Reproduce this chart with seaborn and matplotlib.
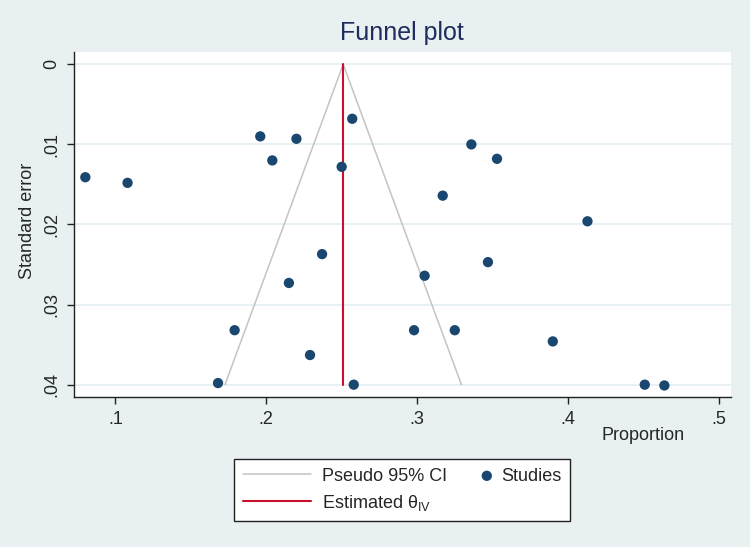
import matplotlib
matplotlib.use("Agg")

import matplotlib.pyplot as plt
import pandas as pd
import seaborn as sns
from matplotlib.collections import PathCollection
from matplotlib.legend_handler import HandlerPathCollection

# values
proportion = [0.080, 0.108, 0.196, 0.204, 0.220, 0.250, 0.257, 0.336, 0.353, 0.317,
              0.413, 0.237, 0.215, 0.179, 0.229, 0.168, 0.258, 0.347, 0.305, 0.298,
              0.325, 0.390, 0.451, 0.464]
std_err = [0.0141, 0.0148, 0.0090, 0.0120, 0.0093, 0.0128, 0.0068, 0.0100, 0.0118, 0.0164,
           0.0196, 0.0237, 0.0273, 0.0332, 0.0363, 0.0398, 0.0400, 0.0247, 0.0264, 0.0332,
           0.0332, 0.0346, 0.0400, 0.0401]
theta_iv = 0.251
se_max = 0.04
z_95 = 1.96

x_ticks = [0.1, 0.2, 0.3, 0.4, 0.5]
x_tick_labels = [".1", ".2", ".3", ".4", ".5"]
y_ticks = [0, 0.01, 0.02, 0.03, 0.04]
y_tick_labels = ["0", ".01", ".02", ".03", ".04"]

BG = "#E8F0F2"
GRID = "#E3EEF1"
DOT = "#1A476F"
RED = "#C8102E"
CI_GRAY = "#C4C4C4"
TITLE_COLOR = "#1F2D5C"


class RightDot(HandlerPathCollection):
    # put the legend dot at the right end of the handle box, as Stata does
    def get_xdata(self, legend, xdescent, ydescent, width, height, fontsize):
        return [-xdescent, -xdescent + width], [-xdescent + width - 0.2 * fontsize]


def main() -> None:
    sns.set_style("white")
    plt.rcParams["font.family"] = ["Liberation Sans", "DejaVu Sans"]
    plt.rcParams["font.size"] = 13

    df = pd.DataFrame({"Proportion": proportion, "Standard error": std_err})

    fig = plt.figure(figsize=(7.5, 5.47), dpi=100, facecolor=BG)
    ax = fig.add_axes([0.0987, 0.2748, 0.8756, 0.6296])
    ax.set_facecolor("white")

    ci_line, = ax.plot(
        [theta_iv - z_95 * se_max, theta_iv, theta_iv + z_95 * se_max],
        [se_max, 0, se_max],
        color=CI_GRAY, lw=1.1, zorder=2,
    )
    est_line, = ax.plot([theta_iv, theta_iv], [0, se_max], color=RED, lw=1.5, zorder=3)
    sns.scatterplot(
        data=df, x="Proportion", y="Standard error", ax=ax,
        color=DOT, s=55, edgecolor="none", linewidth=0, zorder=4, legend=False,
    )
    studies = ax.collections[0]

    ax.set_xlim(0.0725, 0.508)
    ax.set_ylim(0.0415, -0.0015)
    ax.set_xticks(x_ticks)
    ax.set_xticklabels(x_tick_labels)
    ax.set_yticks(y_ticks)
    ax.set_yticklabels(y_tick_labels, rotation=90, va="center")
    ax.tick_params(axis="both", direction="out", length=5, width=1, color="#222222",
                   labelsize=13, pad=5, left=True, bottom=True)
    ax.yaxis.grid(True, color=GRID, lw=1.2)
    ax.xaxis.grid(False)
    ax.set_axisbelow(True)
    for side in ["top", "right"]:
        ax.spines[side].set_visible(False)
    for side in ["left", "bottom"]:
        ax.spines[side].set_color("#222222")
        ax.spines[side].set_linewidth(1.0)

    ax.set_title("Funnel plot", fontsize=18, color=TITLE_COLOR, pad=9)
    ax.set_xlabel("Proportion", fontsize=13, ha="right")
    ax.xaxis.set_label_coords(0.930, -0.088)
    ax.set_ylabel("Standard error", fontsize=13)
    ax.yaxis.set_label_coords(-0.058, 0.51)

    leg = fig.legend(
        [ci_line, est_line, studies],
        ["Pseudo 95% CI", "Estimated θ$_{\\mathregular{IV}}$", "Studies"],
        handler_map={PathCollection: RightDot(numpoints=1)},
        ncol=2, loc="center", bbox_to_anchor=(0.536, 0.104),
        fontsize=13, frameon=True, fancybox=False, framealpha=1,
        edgecolor="#222222", facecolor="white", borderpad=0.45,
        handlelength=3.8, handletextpad=0.6, labelspacing=0.45,
        columnspacing=-1.4, borderaxespad=0,
    )
    leg.get_frame().set_linewidth(1.0)

    fig.savefig("out.png", dpi=100, facecolor=BG)
    plt.close(fig)


if __name__ == "__main__":
    main()
